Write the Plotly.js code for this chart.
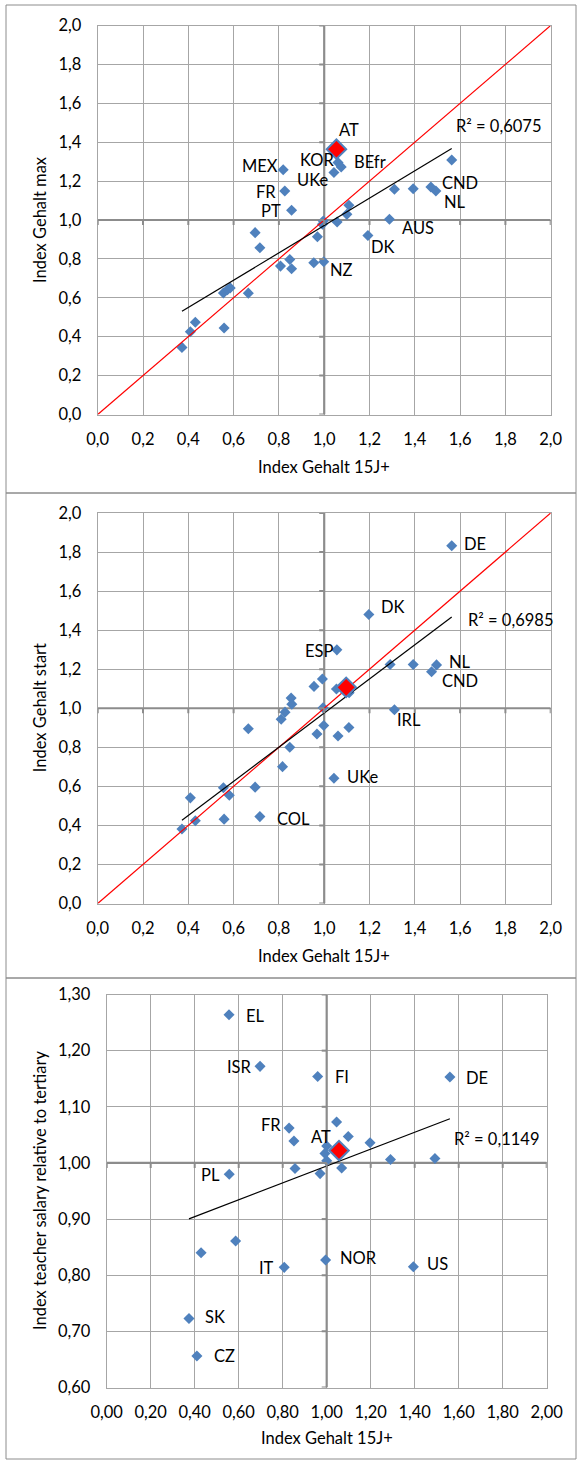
<!DOCTYPE html>
<html><head><meta charset="utf-8">
<script src="https://cdn.plot.ly/plotly-3.0.1.min.js"></script>
<style>html,body{margin:0;padding:0;background:#fff}#chart{width:578px;height:1462px}</style>
</head><body><div id="chart"></div>
<script>
// ---------- DATA ----------
// Panel 1: Index Gehalt 15J+ vs Index Gehalt max
const maxX = [0.372,0.409,0.431,0.558,0.555,0.573,0.585,0.665,0.695,0.716,0.807,0.848,0.856,0.954,0.998,0.970,0.992,0.996,1.057,1.100,1.109,1.193,0.856,0.826,0.819,1.054,1.061,1.075,1.043,1.288,1.310,1.393,1.471,1.493,1.563];
const maxY = [0.345,0.425,0.474,0.445,0.625,0.641,0.651,0.624,0.935,0.857,0.763,0.797,0.749,0.780,0.785,0.914,0.978,0.995,0.990,1.029,1.076,0.920,1.050,1.149,1.258,1.364,1.295,1.273,1.244,1.004,1.158,1.161,1.170,1.149,1.308];
const maxLabels = ['','','','','','','','','','','','','','','NZ','','','','','','','DK','PT','FR','MEX','','KOR','BEfr','UKe','AUS','','','CND','NL',''];
const maxR2 = 'R² = 0,6075';

// Panel 2: Index Gehalt 15J+ vs Index Gehalt start
const startX = [0.372,0.409,0.431,0.555,0.558,0.581,0.665,0.695,0.716,0.810,0.816,0.827,0.848,0.854,0.857,0.955,0.968,0.992,0.995,0.998,1.043,1.054,1.056,1.061,1.097,1.110,1.109,1.197,1.291,1.310,1.393,1.474,1.496,1.563];
const startY = [0.382,0.541,0.424,0.593,0.432,0.554,0.895,0.596,0.445,0.944,0.701,0.980,0.800,1.052,1.021,1.112,0.868,1.150,1.003,0.912,0.641,1.099,1.299,0.858,1.107,1.080,0.901,1.480,1.224,0.992,1.224,1.187,1.222,1.832];
const startLabels = ['','','','','','','','','COL','','','','','','','','','','','','UKe','','ESP','','','','','DK','','IRL','','CND','NL','DE'];
const startR2 = 'R² = 0,6985';

// Panel 3: Index Gehalt 15J+ vs teacher salary relative to tertiary
const tertX = [0.556,0.697,0.959,1.560,0.829,0.851,1.045,1.098,1.197,1.056,1.000,0.992,1.000,1.068,0.856,0.970,0.557,1.290,1.492,0.586,0.429,0.807,0.995,1.394,0.374,0.410];
const tertY = [1.264,1.172,1.154,1.153,1.062,1.039,1.073,1.047,1.036,1.022,1.030,1.017,1.004,0.991,0.990,0.981,0.980,1.006,1.008,0.861,0.840,0.814,0.827,0.815,0.723,0.656];
const tertLabels = ['EL','ISR','FI','DE','FR','','','','','','','','','','','','PL','','','','','IT','NOR','US','SK','CZ'];
const tertR2 = 'R² = 0,1149';

// Austria (highlighted point) per panel
const atX = [1.054, 1.097, 1.056];
const atY = [1.364, 1.107, 1.022];
const atLabels = ['AT', '', 'AT'];

// Identity line
const identityX = [0, 2];
const identityY = [0, 2];

// Axes cross at
const crossAt = 1.0;

// Ticks
const ticks12 = [0,0.2,0.4,0.6,0.8,1.0,1.2,1.4,1.6,1.8,2.0];
const tickText12 = ['0,0','0,2','0,4','0,6','0,8','1,0','1,2','1,4','1,6','1,8','2,0'];
const tickText3x = ['0,00','0,20','0,40','0,60','0,80','1,00','1,20','1,40','1,60','1,80','2,00'];
const ticks3y = [0.6,0.7,0.8,0.9,1.0,1.1,1.2,1.3];
const tickText3y = ['0,60','0,70','0,80','0,90','1,00','1,10','1,20','1,30'];

const xTitle = 'Index Gehalt 15J+';
const yTitles = ['Index Gehalt max', 'Index Gehalt start', 'Index teacher salary relative to tertiary'];

// ---------- STYLE ----------
const W = 578, H = 1462;
const FONT = 'Lato, "Open Sans", sans-serif';
const FS = 16.5;
const BLUE = '#4f81bd';
const GRID = '#a6a6a6';
const AXIS = '#8c8c8c';
const boxes = [
  {l: 97.7, r: 550.7, t: 25.5, b: 414.5, xt: 467, frame: [5, 493]},
  {l: 97.7, r: 550.7, t: 513, b: 903.5, xt: 956, frame: [493, 978]},
  {l: 106.7, r: 546.7, t: 994.5, b: 1387.5, xt: 1438, frame: [978, 1459]}
];
const labelStyle = [
  {NZ:['left',5,-8], DK:['left',2,-11], PT:['right',-10,-1], FR:['right',-8,-1], MEX:['right',-4,4],
   KOR:['right',-3,3], BEfr:['left',12,5], UKe:['right',-5,-7], AUS:['left',12,-9], CND:['left',10,4], NL:['left',7,-11], AT:['center',13,19]},
  {COL:['left',16,-2], UKe:['left',12,1], ESP:['right',-3,-1], DK:['left',11,8], IRL:['left',2,-10], CND:['left',9,-9], NL:['left',11,3], DE:['left',11,2]},
  {EL:['left',16,-1], ISR:['right',-7,-1], FI:['left',16,-1], DE:['left',15,-1], FR:['right',-7,3], PL:['right',-8,-1],
   IT:['right',-9,-1], NOR:['left',13,2], US:['left',13,3], SK:['left',15,1], CZ:['left',16,0], AT:['center',-18,14]}
];
const r2Shift = [[2,23],[14,-3],[2,-20]];

function fit(xs, ys) {
  const n = xs.length;
  const mx = xs.reduce((a,b)=>a+b,0)/n, my = ys.reduce((a,b)=>a+b,0)/n;
  let sxy = 0, sxx = 0;
  for (let i=0;i<n;i++){ sxy += (xs[i]-mx)*(ys[i]-my); sxx += (xs[i]-mx)*(xs[i]-mx); }
  const b = sxy/sxx, a = my - b*mx;
  const x0 = Math.min(...xs), x1 = Math.max(...xs);
  return {x:[x0,x1], y:[a+b*x0, a+b*x1]};
}

const panels = [
  {xs:maxX, ys:maxY, labels:maxLabels, r2:maxR2, yr:[0,2], yt:ticks12, ytt:tickText12, xtt:tickText12, identity:true},
  {xs:startX, ys:startY, labels:startLabels, r2:startR2, yr:[0,2], yt:ticks12, ytt:tickText12, xtt:tickText12, identity:true},
  {xs:tertX, ys:tertY, labels:tertLabels, r2:tertR2, yr:[0.6,1.3], yt:ticks3y, ytt:tickText3y, xtt:tickText3x, identity:false}
];

const traces = [], shapes = [], annotations = [];
const layout = {
  width: W, height: H, margin: {l:0,r:0,t:0,b:0},
  paper_bgcolor: '#fff', plot_bgcolor: '#fff', showlegend: false,
  font: {family: FONT, size: FS, color: '#000'},
  shapes: shapes, annotations: annotations
};

// outer frames of the three chart boxes
boxes.forEach(bx => {
  shapes.push({type:'rect', xref:'paper', yref:'paper', x0:6/W, x1:576/W, y0:1-bx.frame[1]/H, y1:1-bx.frame[0]/H,
    line:{color:'#8c8c8c', width:1}, fillcolor:'rgba(0,0,0,0)', layer:'above'});
});

panels.forEach((p, k) => {
  const s = k === 0 ? '' : String(k+1);
  const xa = 'x'+s, ya = 'y'+s;
  const bx = boxes[k];
  const baseAxis = {
    showgrid: true, gridcolor: GRID, gridwidth: 1, zeroline: false,
    showline: true, mirror: true, linecolor: GRID, linewidth: 1,
    ticks: '', tickfont: {family: FONT, size: FS, color: '#000'}, tickmode: 'array', fixedrange: true
  };
  layout['xaxis'+s] = Object.assign({}, baseAxis, {
    domain: [bx.l/W, bx.r/W], range: [0,2], tickvals: ticks12, ticktext: p.xtt,
    anchor: ya, ticklabelstandoff: 10
  });
  layout['yaxis'+s] = Object.assign({}, baseAxis, {
    domain: [1-bx.b/H, 1-bx.t/H], range: p.yr, tickvals: p.yt, ticktext: p.ytt,
    anchor: xa, ticklabelstandoff: 12
  });

  // crossing axes at 1.0 (drawn first, under the markers)
  traces.push({type:'scatter', mode:'lines', x:[crossAt, crossAt], y:p.yr, xaxis:xa, yaxis:ya, line:{color:AXIS, width:2.2}, hoverinfo:'skip'});
  traces.push({type:'scatter', mode:'lines', x:[0, 2], y:[crossAt, crossAt], xaxis:xa, yaxis:ya, line:{color:AXIS, width:2.2}, hoverinfo:'skip'});
  ticks12.forEach(v => shapes.push({type:'line', layer:'above', xref:xa, yref:ya, x0:v, x1:v, ysizemode:'pixel', yanchor:crossAt, y0:0, y1:-5, line:{color:AXIS, width:2}}));
  p.yt.forEach(v => shapes.push({type:'line', layer:'above', xref:xa, yref:ya, xsizemode:'pixel', xanchor:crossAt, x0:0, x1:-5, y0:v, y1:v, line:{color:AXIS, width:2}}));

  // markers
  traces.push({type:'scatter', mode:'markers', x:p.xs, y:p.ys, xaxis:xa, yaxis:ya, cliponaxis:false,
    marker:{symbol:'diamond', size:8.5, color:BLUE, line:{width:0}}, hoverinfo:'skip'});
  if (p.identity) {
    traces.push({type:'scatter', mode:'lines', x:identityX, y:identityY, xaxis:xa, yaxis:ya, line:{color:'#ff0000', width:1.2}, hoverinfo:'skip'});
  }
  const f = fit(p.xs, p.ys);
  traces.push({type:'scatter', mode:'lines', x:f.x, y:f.y, xaxis:xa, yaxis:ya, line:{color:'#000', width:1.2}, hoverinfo:'skip'});
  traces.push({type:'scatter', mode:'markers', x:[atX[k]], y:[atY[k]], xaxis:xa, yaxis:ya, cliponaxis:false,
    marker:{symbol:'diamond', size:15, color:'#ff0000', line:{color:BLUE, width:2}}, hoverinfo:'skip'});

  // data labels
  const st = labelStyle[k];
  p.labels.forEach((lab, i) => {
    if (!lab) return;
    const c = st[lab] || ['left', 10, 0];
    annotations.push({x:p.xs[i], y:p.ys[i], xref:xa, yref:ya, text:lab, showarrow:false, borderpad:0,
      xanchor:c[0], yanchor:'middle', xshift:c[1], yshift:c[2], font:{family:FONT, size:FS, color:'#000'}});
  });
  if (atLabels[k]) {
    const c = st[atLabels[k]];
    annotations.push({x:atX[k], y:atY[k], xref:xa, yref:ya, text:atLabels[k], showarrow:false, borderpad:0,
      xanchor:c[0], yanchor:'middle', xshift:c[1], yshift:c[2], font:{family:FONT, size:FS, color:'#000'}});
  }
  // R²
  annotations.push({x:f.x[1], y:f.y[1], xref:xa, yref:ya, text:p.r2, showarrow:false,
    xanchor:'left', yanchor:'middle', xshift:r2Shift[k][0], yshift:r2Shift[k][1], font:{family:FONT, size:FS, color:'#000'}});
  // axis titles
  annotations.push({x:(bx.l+bx.r)/2/W, y:1-bx.xt/H, xref:'paper', yref:'paper', text:xTitle, showarrow:false,
    xanchor:'center', yanchor:'middle', font:{family:FONT, size:FS, color:'#000'}});
  annotations.push({x:40/W, y:1-(bx.t+bx.b)/2/H, xref:'paper', yref:'paper', text:yTitles[k], showarrow:false, textangle:-90,
    xanchor:'center', yanchor:'middle', font:{family:FONT, size:FS, color:'#000'}});
});

Plotly.newPlot('chart', traces, layout, {staticPlot:true, displayModeBar:false});
</script>
</body></html>
